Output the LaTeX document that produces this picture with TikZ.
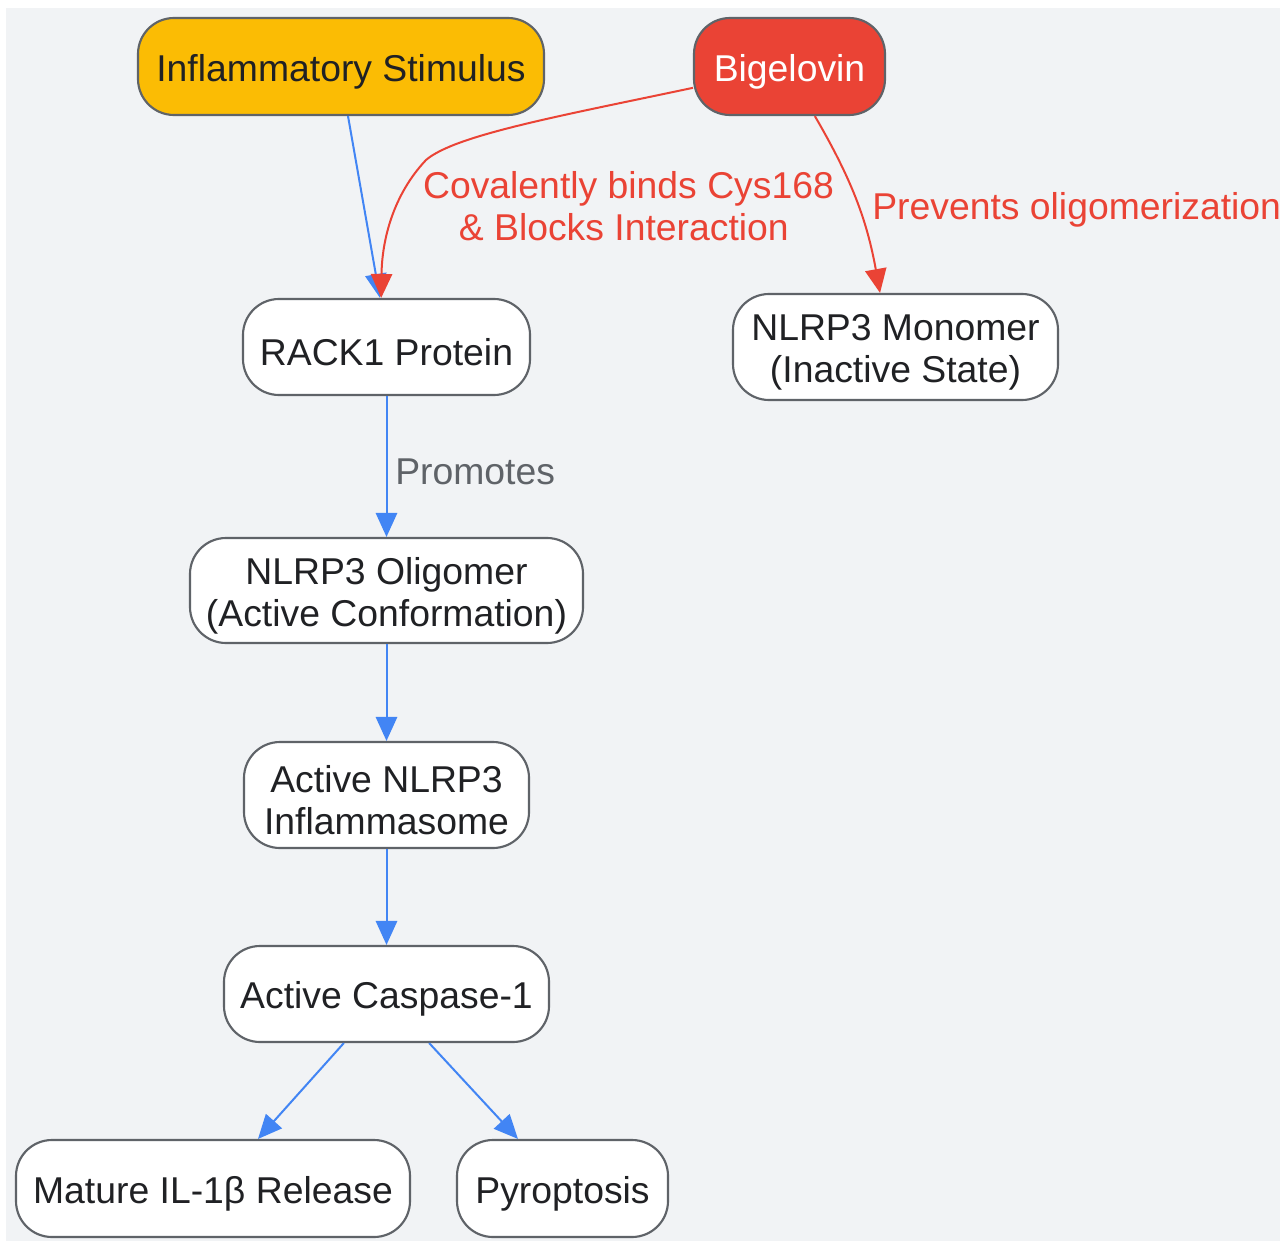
\documentclass[tikz,border=0pt]{standalone}
\usepackage{fontspec}
\setmainfont{Liberation Sans}
\usetikzlibrary{arrows.meta}
\definecolor{bggray}{HTML}{F1F3F5}
\definecolor{gyellow}{HTML}{FBBC04}
\definecolor{gred}{HTML}{EA4335}
\definecolor{gblue}{HTML}{4285F4}
\definecolor{bordergray}{HTML}{5F6368}
\definecolor{txt}{HTML}{202124}
\tikzset{
  box/.style={draw=bordergray, line width=1.6pt, rounded corners=27pt, fill=white,
    inner sep=0pt},
  boxtext/.style={text=txt, align=center, inner sep=0pt, yshift=-3.75pt,
    font=\fontsize{28pt}{31.5pt}\selectfont},
  lbl/.style={font=\fontsize{28pt}{31.5pt}\selectfont, align=center, inner sep=0pt},
  blueedge/.style={draw=gblue, line width=1.5pt, -{Triangle[length=18pt,width=16pt]}},
  rededge/.style={draw=gred, line width=1.5pt, -{Triangle[length=18pt,width=16pt]}},
}
\begin{document}
\begin{tikzpicture}[x=0.75pt,y=-0.75pt]
\useasboundingbox (0,0) rectangle (1280,1241);
\fill[bggray] (6,8) rectangle (1280,1241);

\node[box, fill=gyellow, minimum width=406*0.75pt, minimum height=97*0.75pt,
  label={[boxtext]center:Inflammatory Stimulus}] (inf) at (341,66.5) {};
\node[box, fill=gred, minimum width=191*0.75pt, minimum height=97*0.75pt,
  label={[boxtext, text=white]center:Bigelovin}] (big) at (789.5,66.5) {};
\node[box, minimum width=287*0.75pt, minimum height=96*0.75pt,
  label={[boxtext]center:RACK1 Protein}] (rack) at (386.5,347) {};
\node[box, minimum width=325*0.75pt, minimum height=106*0.75pt,
  label={[boxtext]center:NLRP3 Monomer\\(Inactive State)}] (mono) at (895.5,347) {};
\node[box, minimum width=393*0.75pt, minimum height=105*0.75pt,
  label={[boxtext]center:NLRP3 Oligomer\\(Active Conformation)}] (olig) at (386.5,590.5) {};
\node[box, minimum width=285*0.75pt, minimum height=106*0.75pt,
  label={[boxtext]center:Active NLRP3\\Inflammasome}] (infl) at (386.5,795) {};
\node[box, minimum width=325*0.75pt, minimum height=96*0.75pt,
  label={[boxtext]center:Active Caspase-1}] (casp) at (386.5,994) {};
\node[box, minimum width=394*0.75pt, minimum height=97*0.75pt,
  label={[boxtext]center:Mature IL-1β Release}] (il) at (213,1188.5) {};
\node[box, minimum width=211*0.75pt, minimum height=97*0.75pt,
  label={[boxtext]center:Pyroptosis}] (pyro) at (562.5,1188.5) {};

% edges
\draw[blueedge] ([xshift=5.25pt]inf.south) -- ([xshift=-4.9pt]rack.north);
\draw[rededge] ([yshift=-16pt]big.west) .. controls (560,116) and (455,135) .. (426,160)
  .. controls (393,195) and (382,240) .. ([xshift=-4pt]rack.north);
\draw[rededge] ([xshift=19pt]big.south) to[bend left=10] ([xshift=-11.6pt]mono.north);
\draw[blueedge] (rack.south) -- (olig.north);
\draw[blueedge] (olig.south) -- (infl.north);
\draw[blueedge] (infl.south) -- (casp.north);
\draw[blueedge] ([xshift=-32pt]casp.south) -- ([xshift=33.75pt]il.north);
\draw[blueedge] ([xshift=32pt]casp.south) -- ([xshift=-33.4pt]pyro.north);

% labels
\node[lbl, text=gred] (lab1) at (628.5,206) {Covalently binds Cys168\\\& Blocks Interaction\hspace*{7pt}};
\node[lbl, text=gred, anchor=west] (lab2) at (872,210) {Prevents oligomerization};
\node[lbl, text=bordergray, anchor=west] (lab3) at (395,472) {Promotes};
\end{tikzpicture}
\end{document}
